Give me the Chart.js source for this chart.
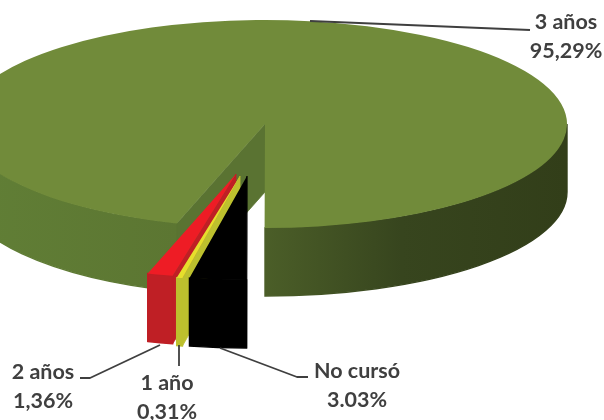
<!DOCTYPE html>
<html>
<head>
<meta charset="utf-8">
<style>
	html, body { margin: 0; padding: 0; background: #fff; overflow: hidden; }
	canvas { display: block; }
</style>
<script src="https://cdn.jsdelivr.net/npm/chart.js@4/dist/chart.umd.min.js"></script>
</head>
<body>
<canvas id="canvas" width="604" height="420"></canvas>
<script>
'use strict';

// data, starting at the wedge gap and going clockwise
var categories = ['3 años', 'No cursó', '1 año', '2 años'];
var values = [95.29, 3.03, 0.31, 1.36];
var valueLabels = ['95,29%', '3.03%', '0,31%', '1,36%'];

// colours per slice
var topColors = ['#718b3a', '#000000', '#e6df2c', '#ee1c25'];
var wallColors = ['#5f7b34', '#000000', '#bdc02e', '#bf1f25'];

// how far each slice is pulled out of the pie, in pixels
var explodeX = [0, -18, -25, -29];
var explodeY = [0, 52, 52, 50];

// projection of the pie on the page
var centerX = 265;
var centerY = 124;
var radiusX = 302;
var radiusY = 104;
var depth = 68;

var TEXT_COLOR = '#3f3f3f';

var labelBlocks = [
	{ i: 0, x: 566, y: 29, line: [[310, 21], [530, 30]] },
	{ i: 1, x: 357, y: 378, line: [[220, 348], [297, 377], [308, 377]] },
	{ i: 2, x: 167, y: 390, line: [[179, 345], [179, 366]] },
	{ i: 3, x: 43, y: 379, line: [[160, 345], [90, 378], [80, 378]] }
];

function rimPoint(angle, i) {
	return {
		x: centerX + explodeX[i] + Math.cos(angle) * radiusX,
		y: centerY + explodeY[i] + Math.sin(angle) * radiusY
	};
}

// curved outer wall between two angles
function drawWall(ctx, i, from, to, fill) {
	var x = centerX + explodeX[i];
	var y = centerY + explodeY[i];
	ctx.beginPath();
	ctx.ellipse(x, y, radiusX, radiusY, 0, from, to, false);
	ctx.ellipse(x, y + depth, radiusX, radiusY, 0, to, from, true);
	ctx.closePath();
	ctx.fillStyle = fill;
	ctx.fill();
	// stroke as well so no pale seam shows under the top surface
	ctx.strokeStyle = fill;
	ctx.lineWidth = 1.4;
	ctx.stroke();
}

// flat cut face under one edge of a slice
function drawFace(ctx, i, angle, fill) {
	var x = centerX + explodeX[i];
	var y = centerY + explodeY[i];
	var p = rimPoint(angle, i);
	ctx.beginPath();
	ctx.moveTo(x, y);
	ctx.lineTo(p.x, p.y);
	ctx.lineTo(p.x, p.y + depth);
	ctx.lineTo(x, y + depth);
	ctx.closePath();
	ctx.fillStyle = fill;
	ctx.fill();
	ctx.strokeStyle = fill;
	ctx.lineWidth = 0.8;
	ctx.stroke();
}

// top surface is the library's own arc, squashed into an ellipse
function drawTop(ctx, arc, i) {
	ctx.save();
	ctx.translate(centerX + explodeX[i], centerY + explodeY[i]);
	ctx.scale(radiusX / arc.outerRadius, radiusY / arc.outerRadius);
	ctx.translate(-arc.x, -arc.y);
	arc.draw(ctx);
	ctx.restore();
}

function drawLabels(ctx) {
	ctx.font = 'bold 21.5px Lato, "Liberation Sans", sans-serif';
	ctx.textAlign = 'center';
	ctx.textBaseline = 'alphabetic';
	ctx.lineJoin = 'round';
	for (var n = 0; n < labelBlocks.length; n++) {
		var block = labelBlocks[n];
		ctx.beginPath();
		ctx.moveTo(block.line[0][0], block.line[0][1]);
		for (var k = 1; k < block.line.length; k++) {
			ctx.lineTo(block.line[k][0], block.line[k][1]);
		}
		ctx.strokeStyle = TEXT_COLOR;
		ctx.lineWidth = 1.8;
		ctx.stroke();
		ctx.fillStyle = TEXT_COLOR;
		ctx.fillText(categories[block.i], block.x, block.y);
		ctx.fillText(valueLabels[block.i], block.x, block.y + 29);
	}
}

var pie3d = {
	id: 'pie3d',
	beforeDatasetsDraw: function(chart) {
		var ctx = chart.ctx;
		var arcs = chart.getDatasetMeta(0).data;
		var green = arcs[0];

		ctx.save();

		// big slice: walls on both sides of the gap, then the cut face seen through it
		var left = ctx.createLinearGradient(-37, 0, 177, 0);
		left.addColorStop(0, '#617f36');
		left.addColorStop(1, '#5c7632');
		drawWall(ctx, 0, green.startAngle, Math.PI, left);

		var right = ctx.createLinearGradient(265, 0, 567, 0);
		right.addColorStop(0, '#4b5e28');
		right.addColorStop(0.45, '#37451e');
		right.addColorStop(1, '#323e19');
		drawWall(ctx, 0, 0, Math.PI / 2, right);

		drawFace(ctx, 0, green.startAngle, '#5a7332');
		drawTop(ctx, green, 0);

		// pulled out slices, back to front
		for (var i = arcs.length - 1; i > 0; i--) {
			drawWall(ctx, i, arcs[i].startAngle, arcs[i].endAngle, wallColors[i]);
			drawFace(ctx, i, arcs[i].startAngle, wallColors[i]);
			drawTop(ctx, arcs[i], i);
		}

		drawLabels(ctx);
		ctx.restore();
		return false;
	}
};

var config = {
	type: 'pie',
	data: {
		labels: categories,
		datasets: [{
			data: values,
			backgroundColor: topColors,
			borderWidth: 0,
			clip: false
		}]
	},
	options: {
		responsive: false,
		animation: false,
		rotation: 197,
		plugins: {
			legend: { display: false },
			tooltip: { enabled: false }
		}
	},
	plugins: [pie3d]
};

var chart = new Chart(document.getElementById('canvas').getContext('2d'), config);
</script>
</body>
</html>
